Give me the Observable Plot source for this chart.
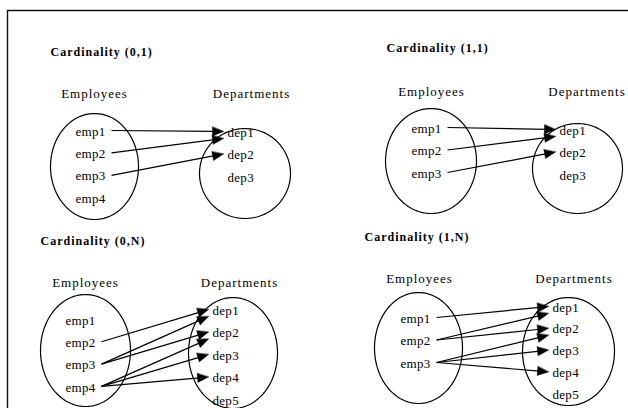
<!DOCTYPE html>
<html>
<head>
<meta charset="utf-8">
<script src="https://cdn.jsdelivr.net/npm/d3@7"></script>
<script src="https://cdn.jsdelivr.net/npm/@observablehq/plot@0.6"></script>
<style>
  html, body { margin: 0; padding: 0; background: #fff; }
</style>
</head>
<body>
<div id="chart"></div>
<script>
// ---- data ----
const titles = ["Cardinality (0,1)", "Cardinality (1,1)", "Cardinality (0,N)", "Cardinality (1,N)"];
const setNames = ["Employees", "Departments"];
const employees = [
  ["emp1", "emp2", "emp3", "emp4"],
  ["emp1", "emp2", "emp3"],
  ["emp1", "emp2", "emp3", "emp4"],
  ["emp1", "emp2", "emp3"]
];
const departments = [
  ["dep1", "dep2", "dep3"],
  ["dep1", "dep2", "dep3"],
  ["dep1", "dep2", "dep3", "dep4", "dep5"],
  ["dep1", "dep2", "dep3", "dep4", "dep5"]
];
const links = [
  [["emp1", "dep1"], ["emp2", "dep1"], ["emp3", "dep2"]],
  [["emp1", "dep1"], ["emp2", "dep1"], ["emp3", "dep2"]],
  [["emp2", "dep1"], ["emp3", "dep1"], ["emp3", "dep2"], ["emp4", "dep2"], ["emp4", "dep3"], ["emp4", "dep4"]],
  [["emp1", "dep1"], ["emp2", "dep1"], ["emp2", "dep2"], ["emp3", "dep2"], ["emp3", "dep3"], ["emp3", "dep4"]]
];

// ---- layout (diagram geometry, in picture units) ----
const W = 628, H = 408;
const layout = [
  {title: [50, 52], headY: 93, headE: 94, headD: 251, empX: 75, empY: 131, empDy: 22.4, depX: 227, depY: 132, depDy: 22.5,
   eL: [94, 166, 44, 53], eR: [244.5, 173, 45.5, 45]},
  {title: [386, 48], headY: 91, headE: 431, headD: 586.5, empX: 411, empY: 128, empDy: 22.5, depX: 559, depY: 130, depDy: 22.5,
   eL: [430.5, 160.5, 45.5, 52.5], eR: [577, 168, 45, 45]},
  {title: [40, 241], headY: 282, headE: 85, headD: 239, empX: 65, empY: 320, empDy: 22.3, depX: 212, depY: 310, depDy: 22.5,
   eL: [85, 350, 45, 56], eR: [232.5, 352.5, 44.5, 55.5]},
  {title: [364, 237], headY: 278, headE: 419, headD: 573.5, empX: 400, empY: 318, empDy: 22.5, depX: 552, depY: 307, depDy: 21.8,
   eL: [418, 347.5, 44, 55.5], eR: [568, 351, 46, 54]}
];
const startGap = 36, tipGap = 4, secondArrival = 7, headLen = 11, headHalf = 4.5;

// ---- derived tables ----
const titleRows = titles.map((t, i) => ({text: t, x: layout[i].title[0], y: layout[i].title[1]}));
const headRows = layout.flatMap((L, i) => [
  {text: setNames[0], x: L.headE, y: L.headY},
  {text: setNames[1], x: L.headD, y: L.headY}
]);
const memberRows = [];
layout.forEach((L, i) => {
  employees[i].forEach((e, k) => memberRows.push({text: e, x: L.empX, y: L.empY + k * L.empDy}));
  departments[i].forEach((d, k) => memberRows.push({text: d, x: L.depX, y: L.depY + k * L.depDy}));
});
const ellipsePts = [];
layout.forEach((L, i) => {
  [L.eL, L.eR].forEach((E, j) => {
    const [cx, cy, rx, ry] = E;
    for (let a = 0; a < 120; a++) {
      const t = (a / 120) * 2 * Math.PI;
      ellipsePts.push({id: `${i}-${j}`, x: cx + rx * Math.cos(t), y: cy + ry * Math.sin(t)});
    }
  });
});
const segs = [], heads = [];
layout.forEach((L, i) => {
  const arrivals = {};
  links[i].forEach(([e, d], k) => {
    const ei = employees[i].indexOf(e), di = departments[i].indexOf(d);
    const x1 = L.empX + startGap, y1 = L.empY + ei * L.empDy - 1;
    const n = arrivals[d] || 0; arrivals[d] = n + 1;
    const x2 = L.depX - tipGap, y2 = L.depY + di * L.depDy - 1 + n * secondArrival;
    const len = Math.hypot(x2 - x1, y2 - y1), ux = (x2 - x1) / len, uy = (y2 - y1) / len;
    const bx = x2 - ux * headLen, by = y2 - uy * headLen;
    segs.push({x1, y1, x2: bx + ux * 2, y2: by + uy * 2});
    const id = `${i}-${k}`;
    heads.push({id, x: x2, y: y2});
    heads.push({id, x: bx - uy * headHalf, y: by + ux * headHalf});
    heads.push({id, x: bx + uy * headHalf, y: by - ux * headHalf});
  });
});

const serif = "'Liberation Serif', 'Times New Roman', serif";
const chart = Plot.plot({
  width: W, height: H, margin: 0,
  style: {background: "#fff", overflow: "hidden"},
  x: {domain: [0, W], range: [0, W], axis: null},
  y: {domain: [0, H], range: [0, H], axis: null},
  marks: [
    Plot.ruleY([10], {x1: 7, x2: W, stroke: "#111", strokeWidth: 1.6}),
    Plot.ruleX([7], {y1: 10, y2: H, stroke: "#111", strokeWidth: 1.4}),
    Plot.line(ellipsePts, {x: "x", y: "y", z: "id", curve: "linear-closed", stroke: "#000", strokeWidth: 1.2}),
    Plot.link(segs, {x1: "x1", y1: "y1", x2: "x2", y2: "y2", stroke: "#000", strokeWidth: 1.2}),
    Plot.line(heads, {x: "x", y: "y", z: "id", curve: "linear-closed", fill: "#000", stroke: "#000", strokeWidth: 0.5}),
    Plot.text(titleRows, {x: "x", y: "y", text: "text", textAnchor: "start", fontFamily: serif, fontWeight: "bold", fontSize: 12, fill: "#000"}),
    Plot.text(headRows, {x: "x", y: "y", text: "text", textAnchor: "middle", fontFamily: serif, fontSize: 13, fill: "#000"}),
    Plot.text(memberRows, {x: "x", y: "y", text: "text", textAnchor: "start", fontFamily: serif, fontSize: 13, fill: "#000"})
  ]
});
// letter spacing as in the scanned figure
chart.querySelectorAll("text").forEach((t) => {
  const s = t.textContent;
  const sp = titles.includes(s) ? 1.0 : setNames.includes(s) ? 1.0 : 0.3;
  t.style.letterSpacing = sp + "px";
});
document.getElementById("chart").appendChild(chart);
</script>
</body>
</html>
